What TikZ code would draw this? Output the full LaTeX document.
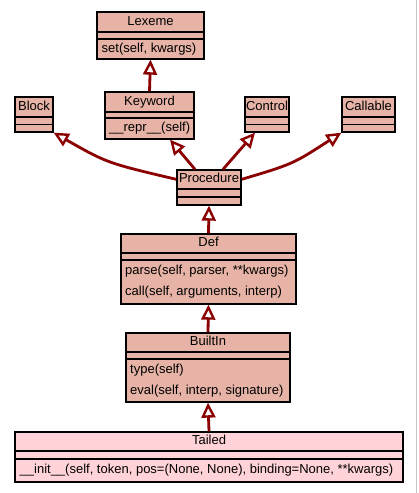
\documentclass[tikz,border=0pt]{standalone}
\usepackage{fontspec}
\setmainfont{Liberation Sans}
\usetikzlibrary{arrows.meta,fit}
\definecolor{boxfill}{RGB}{230,179,166}
\definecolor{tailfill}{RGB}{255,211,216}
\definecolor{edgecol}{RGB}{139,0,0}
\newcommand{\umlclass}[9]{%
  \node[box, fill=#8, fit={(#2,#3)(#4,#5)}] (#1) {};
  \draw[line width=1.3pt] (#2,#6) -- (#4,#6) (#2,#7) -- (#4,#7);
  \node[txt] (#1-title) at ({(#2+#4)/2},{(#3+#6)/2}) {#9};
}
\begin{document}
\begin{tikzpicture}[x=1pt,y=-1pt,
  box/.style={draw=black, line width=1.3pt, inner sep=0pt},
  txt/.style={inner sep=0pt, font=\fontsize{13}{15}\selectfont, text height=9.5pt, text depth=2.8pt},
  meth/.style={txt, anchor=west},
  edge/.style={draw=edgecol, line width=2.8pt, -{Triangle[open, length=15pt, width=14pt, line width=2.4pt]}}]
  \useasboundingbox (0,0) rectangle (419,493);
  \fill[white] (0,0) rectangle (419,493);
  \draw[gray!45, line width=1pt] (416.5,0) -- (416.5,493);

  \umlclass{lexeme}{97}{12}{204}{59}{32}{39}{boxfill}{Lexeme}
  \node[meth] (lexeme-m1) at (101.5,49) {set(self, kwargs)};

  \umlclass{keyword}{105}{92}{194}{139}{112}{118}{boxfill}{Keyword}
  \node[meth] (keyword-m1) at (109,128.5) {\_\_repr\_\_(self)};

  \umlclass{block}{15}{97}{53}{132}{117}{124.5}{boxfill}{Block}
  \umlclass{control}{245}{97}{289}{132}{117}{124.5}{boxfill}{Control}
  \umlclass{callable}{342}{97}{395}{132}{117}{124.5}{boxfill}{Callable}

  \umlclass{procedure}{177}{170}{241}{205}{189}{197}{boxfill}{Procedure}

  \umlclass{def}{121}{234}{296}{304}{253}{260}{boxfill}{Def}
  \node[meth] (def-m1) at (125,271) {parse(self, parser, **kwargs)};
  \node[meth] (def-m2) at (125,292) {call(self, arguments, interp)};

  \umlclass{builtin}{126}{333}{290}{402}{352}{359}{boxfill}{BuiltIn}
  \node[meth] (builtin-m1) at (130,370) {type(self)};
  \node[meth] (builtin-m2) at (130,391) {eval(self, interp, signature)};

  \umlclass{tailed}{15}{432}{403}{482}{451}{459}{tailfill}{Tailed}
  \node[meth] (tailed-m1) at (19.5,470.5) {\_\_init\_\_(self, token, pos=(None, None), binding=None, **kwargs)};

  \draw[edge] (keyword.north) -- (lexeme.south);
  \draw[edge] ([yshift=-10pt]procedure.north west) .. controls (107,163) .. (block.south east);
  \draw[edge] ([xshift=-14pt]procedure.north) -- ([xshift=20.5pt]keyword.south);
  \draw[edge] ([xshift=14pt]procedure.north) -- ([xshift=-12pt]control.south);
  \draw[edge] ([yshift=-10pt]procedure.north east) .. controls (293,164) .. (callable.south west);
  \draw[edge] (def.north) -- (procedure.south);
  \draw[edge] (builtin.north) -- (def.south);
  \draw[edge] (tailed.north) -- (builtin.south);
\end{tikzpicture}
\end{document}
